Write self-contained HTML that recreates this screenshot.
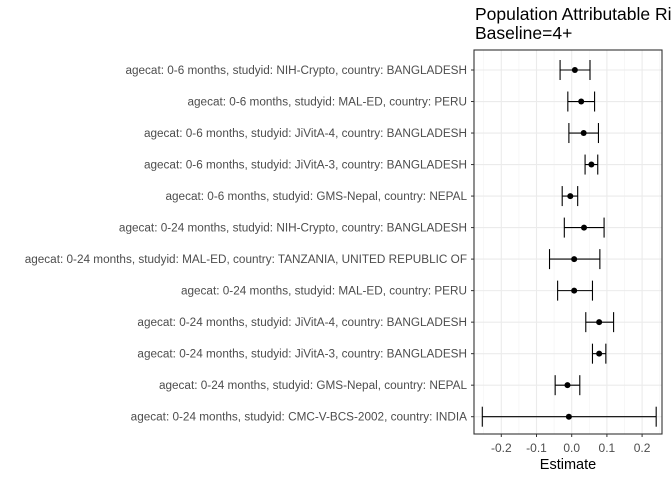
<!DOCTYPE html>
<html><head><meta charset="utf-8"><style>
body{margin:0;background:#fff;}
svg{font-family:"Liberation Sans",sans-serif;display:block;}
</style></head><body>
<svg id="chart" width="672" height="480">
<text x="475" y="20" font-size="17.5" fill="#000">Population Attributable Risk</text>
<text x="475" y="39" font-size="17.5" fill="#000">Baseline=4+</text>
<g id="plot"></g>
</svg>
<script>
const labels=["agecat: 0-6 months, studyid: NIH-Crypto, country: BANGLADESH","agecat: 0-6 months, studyid: MAL-ED, country: PERU","agecat: 0-6 months, studyid: JiVitA-4, country: BANGLADESH","agecat: 0-6 months, studyid: JiVitA-3, country: BANGLADESH","agecat: 0-6 months, studyid: GMS-Nepal, country: NEPAL","agecat: 0-24 months, studyid: NIH-Crypto, country: BANGLADESH","agecat: 0-24 months, studyid: MAL-ED, country: TANZANIA, UNITED REPUBLIC OF","agecat: 0-24 months, studyid: MAL-ED, country: PERU","agecat: 0-24 months, studyid: JiVitA-4, country: BANGLADESH","agecat: 0-24 months, studyid: JiVitA-3, country: BANGLADESH","agecat: 0-24 months, studyid: GMS-Nepal, country: NEPAL","agecat: 0-24 months, studyid: CMC-V-BCS-2002, country: INDIA"];
const estimates=[0.009,0.027,0.034,0.056,-0.004,0.035,0.007,0.007,0.078,0.078,-0.012,-0.008];
const lower=[-0.033,-0.011,-0.008,0.038,-0.027,-0.021,-0.063,-0.040,0.040,0.059,-0.047,-0.254];
const upper=[0.052,0.065,0.076,0.074,0.017,0.092,0.080,0.059,0.119,0.097,0.023,0.240];
const ticks=[-0.2,-0.1,0.0,0.1,0.2];
const tickLabels=["-0.2","-0.1","0.0","0.1","0.2"];
const L=474,R=662,T=50,B=434;
const x=v=>571.7+v*352;
const y=i=>70+i*(416.7-70)/(labels.length-1);
const NS="http://www.w3.org/2000/svg",g=document.getElementById('plot');
function mk(t,a,p){const e=document.createElementNS(NS,t);for(const k in a)e.setAttribute(k,a[k]);(p||g).appendChild(e);return e;}
let bg=mk('rect',{x:L,y:T,width:R-L,height:B-T,fill:'#fff'});


for(let i=0;i<ticks.length+1;i++){const v=ticks[0]-0.05+i*0.1;const gx=x(v);if(gx>L&&gx<R){let m=mk('line',{x1:gx,x2:gx,y1:T,y2:B,stroke:'#f2f2f2','stroke-width':0.6});}}
ticks.forEach((t,i)=>{let gl=mk('line',{x1:x(t),x2:x(t),y1:T,y2:B,stroke:'#ebebeb','stroke-width':1.1});
let tk=mk('line',{x1:x(t),x2:x(t),y1:B,y2:B+3,stroke:'#333','stroke-width':1});
let tl=mk('text',{x:x(t),y:B+18,'font-size':12,fill:'#4d4d4d','text-anchor':'middle'});tl.textContent=tickLabels[i];});
labels.forEach((lb,i)=>{let gl=mk('line',{x1:L,x2:R,y1:y(i),y2:y(i),stroke:'#ebebeb','stroke-width':1.1});
let tk=mk('line',{x1:L-3,x2:L,y1:y(i),y2:y(i),stroke:'#333','stroke-width':1});
let t=mk('text',{x:L-7,y:y(i)+4,'font-size':11.75,fill:'#4d4d4d','text-anchor':'end'});t.textContent=lb;});
labels.forEach((lb,i)=>{const yy=y(i);
let h=mk('line',{x1:x(lower[i]),x2:x(upper[i]),y1:yy,y2:yy,stroke:'#000','stroke-width':1.1});
[lower[i],upper[i]].forEach(v=>{let c=mk('line',{x1:x(v),x2:x(v),y1:yy-10,y2:yy+10,stroke:'#000','stroke-width':1.1});});
let p=mk('circle',{cx:x(estimates[i]),cy:yy,r:3,fill:'#000'});});
let br=mk('rect',{x:L,y:T,width:R-L,height:B-T,fill:'none',stroke:'#333','stroke-width':1.1});


let xt=mk('text',{x:(L+R)/2,y:469,'font-size':14.5,fill:'#000','text-anchor':'middle'});xt.textContent='Estimate';


</script>
</body></html>
